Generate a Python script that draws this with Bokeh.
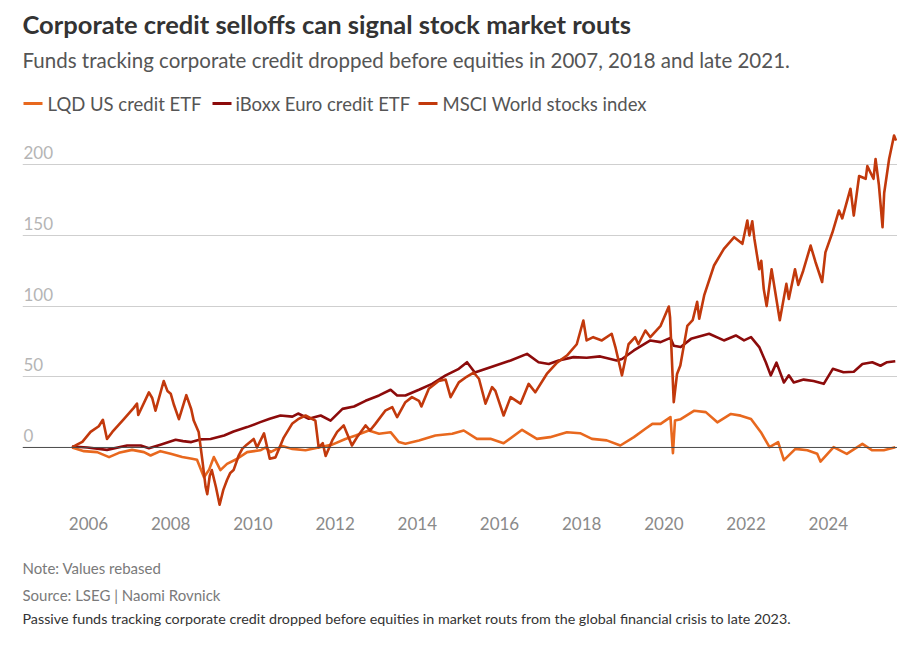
from bokeh.plotting import figure
from bokeh.models import Range1d, FixedTicker, Span
from bokeh.layouts import column
from bokeh.core.properties import value
from bokeh.embed import file_html
from bokeh.resources import INLINE

# ---------------- data (decimal year, rebased value) ----------------
msci_year = [2005.60, 2005.72, 2005.85, 2006.05, 2006.25, 2006.35, 2006.45, 2006.58, 2006.86, 2007.10,
             2007.18, 2007.21, 2007.47, 2007.55, 2007.63, 2007.83, 2007.92, 2008.00, 2008.08, 2008.20,
             2008.38, 2008.50, 2008.56, 2008.68, 2008.77, 2008.85, 2008.89, 2008.95, 2009.00, 2009.10,
             2009.19, 2009.28, 2009.37, 2009.45, 2009.53, 2009.65, 2009.74, 2009.85, 2010.02, 2010.10,
             2010.27, 2010.41, 2010.55, 2010.75, 2010.96, 2011.10, 2011.28, 2011.52, 2011.60, 2011.70,
             2011.77, 2011.93, 2012.05, 2012.21, 2012.41, 2012.55, 2012.74, 2012.85, 2012.98, 2013.22,
             2013.39, 2013.51, 2013.71, 2013.87, 2014.04, 2014.10, 2014.28, 2014.52, 2014.69, 2014.81,
             2015.01, 2015.20, 2015.37, 2015.50, 2015.66, 2015.82, 2015.90, 2016.10, 2016.27, 2016.51,
             2016.71, 2016.87, 2017.15, 2017.40, 2017.64, 2017.88, 2018.04, 2018.12, 2018.28, 2018.49,
             2018.73, 2018.82, 2018.98, 2019.14, 2019.30, 2019.38, 2019.55, 2019.67, 2019.92, 2020.12,
             2020.15, 2020.24, 2020.32, 2020.40, 2020.57, 2020.70, 2020.81, 2020.86, 2020.98, 2021.22,
             2021.46, 2021.71, 2021.91, 2022.03, 2022.08, 2022.15, 2022.20, 2022.32, 2022.37, 2022.43,
             2022.50, 2022.62, 2022.82, 2022.98, 2023.04, 2023.19, 2023.27, 2023.39, 2023.57, 2023.69,
             2023.85, 2023.93, 2024.10, 2024.26, 2024.34, 2024.54, 2024.62, 2024.75, 2024.91, 2024.95,
             2025.10, 2025.15, 2025.23, 2025.32, 2025.36, 2025.48, 2025.60, 2025.65]
msci_val = [0, 2, 4, 11, 15, 19.6, 6, 11, 20, 28,
            31, 23, 39, 35, 26, 47, 40, 38, 30, 20,
            37, 27, 19, 11, -9, -28, -33, -20, -16, -28,
            -40.5, -30, -23, -18, -16, -6, -1, 2, 6, 0,
            10, -8, -7, 7, 17, 20, 22.6, 19, 0, 3,
            -6, 5, 11, 15.6, 1.4, 8, 15.6, 12, 16.7, 26,
            28.5, 21.4, 32, 35.6, 33, 29, 41.5, 47, 48, 35.6,
            46, 50, 53, 48.6, 31, 42.7, 40, 22.6, 35.6, 31,
            45, 39, 52, 60, 65, 73, 89.8, 75.7, 78, 75.7,
            80.4, 71, 51, 73, 78, 73, 82.7, 78, 86, 99.7,
            92, 32, 52, 58, 86, 90, 103, 91, 107.5, 128.7,
            140.5, 148.7, 144, 160.5, 150, 160, 148, 126, 132, 112,
            100, 126, 90, 115.7, 105, 126, 115, 125, 142.8, 131,
            117, 138, 152, 167.6, 162, 183, 164, 192, 190, 199,
            190, 204, 186, 155.8, 180, 204, 220.6, 217]

iboxx_year = [2005.60, 2005.97, 2006.45, 2006.94, 2007.27, 2007.47, 2007.75, 2008.12, 2008.30, 2008.50,
              2008.72, 2008.97, 2009.30, 2009.53, 2009.86, 2010.18, 2010.41, 2010.67, 2010.96, 2011.10,
              2011.36, 2011.65, 2011.89, 2012.18, 2012.46, 2012.74, 2013.07, 2013.35, 2013.51, 2013.71,
              2014.04, 2014.36, 2014.69, 2015.01, 2015.21, 2015.40, 2015.78, 2016.27, 2016.67, 2016.95,
              2017.20, 2017.44, 2017.80, 2018.12, 2018.45, 2018.85, 2018.98, 2019.27, 2019.67, 2019.92,
              2020.16, 2020.24, 2020.41, 2020.66, 2021.10, 2021.46, 2021.75, 2021.95, 2022.12, 2022.32,
              2022.48, 2022.60, 2022.74, 2022.92, 2023.04, 2023.16, 2023.40, 2023.64, 2023.89, 2024.11,
              2024.37, 2024.62, 2024.83, 2025.07, 2025.27, 2025.43, 2025.63]
iboxx_val = [0.7, 0, -1.7, 1.4, 1.4, -0.5, 2, 5.4, 4.5, 3.8,
             5.7, 6, 8.5, 11.3, 14.4, 17.9, 20.3, 22.6, 21.8, 24,
             20.3, 22.6, 19, 27.3, 29, 33, 36.8, 40.8, 36.8, 36.8,
             40.8, 45, 51, 55.6, 60.3, 53, 56.8, 61.5, 66.2, 60.3,
             59, 61.5, 63.9, 63.5, 64.4, 61.5, 62.6, 68.6, 75.7, 74.5,
             77.5, 72, 71, 76.8, 80.4, 75.7, 79.2, 75.7, 78, 71,
             60.3, 51, 60, 46, 51, 46, 48, 47, 45, 55.6,
             53.2, 53.6, 59, 60.3, 57.8, 60.3, 61]

lqd_year = [2005.60, 2005.89, 2006.21, 2006.50, 2006.74, 2007.06, 2007.35, 2007.51, 2007.75, 2008.00,
            2008.28, 2008.52, 2008.64, 2008.81, 2008.93, 2009.05, 2009.21, 2009.37, 2009.62, 2009.86,
            2010.18, 2010.31, 2010.43, 2010.71, 2010.96, 2011.28, 2011.60, 2011.93, 2012.25, 2012.50,
            2012.82, 2013.07, 2013.35, 2013.55, 2013.71, 2014.04, 2014.44, 2014.85, 2015.13, 2015.45,
            2015.78, 2016.10, 2016.55, 2016.91, 2017.23, 2017.64, 2017.96, 2018.25, 2018.61, 2018.94,
            2019.27, 2019.55, 2019.72, 2019.92, 2020.16, 2020.22, 2020.27, 2020.41, 2020.74, 2021.02,
            2021.30, 2021.63, 2021.87, 2022.12, 2022.36, 2022.57, 2022.78, 2022.92, 2023.20, 2023.49,
            2023.73, 2023.81, 2024.13, 2024.45, 2024.83, 2025.07, 2025.35, 2025.63]
lqd_val = [0, -2.6, -3.3, -6.8, -3.8, -1.7, -3.3, -5.7, -2.6, -4.5,
           -6.8, -8, -8.7, -21, -16, -6.8, -16, -11.6, -8, -3.3,
           -2, 0, -3.3, 1, -1, -2, 0, 2, 6, 8.5,
           12, 9.7, 10.8, 3.8, 2.6, 5, 8.5, 9.7, 12, 6.1,
           6.1, 3, 12.5, 6.1, 7.3, 10.8, 10.1, 6.1, 5, 1.4,
           7.3, 13.2, 16.7, 16.7, 21.5, -4, 19, 20, 26, 25,
           17.8, 23.7, 22.5, 20.2, 10.8, 0.2, 3.8, -9, -1, -2,
           -4.5, -10, 0.2, -4.5, 2.6, -2, -2, 0.2]

series_names = ["LQD US credit ETF", "iBoxx Euro credit ETF", "MSCI World stocks index"]
series_colors = ["#e8681e", "#8c0b0b", "#c2390c"]

year_ticks = [2006, 2008, 2010, 2012, 2014, 2016, 2018, 2020, 2022, 2024]
grid_ticks = [50, 100, 150, 200]
y_label_vals = [0, 50, 100, 150, 200]

title_text = "Corporate credit selloffs can signal stock market routs"
subtitle_text = "Funds tracking corporate credit dropped before equities in 2007, 2018 and late 2021."
note_text = "Note: Values rebased"
source_text = "Source: LSEG | Naomi Rovnick"
caption_text = "Passive funds tracking corporate credit dropped before equities in market routs from the global financial crisis to late 2023."

FONT = "Lato"
W = 897
LB = 22          # left border shared by all three panels
FW = W - LB      # frame width


def text_panel(height):
    fig = figure(width=W, height=height, output_backend="svg", toolbar_location=None,
                 x_range=Range1d(0, FW), y_range=Range1d(height, 0),
                 x_axis_location=None, y_axis_location=None,
                 min_border_left=LB, min_border_right=0, min_border_top=0, min_border_bottom=0)
    fig.outline_line_color = None
    fig.grid.visible = False
    return fig


# ---------------- header ----------------
HH = 125
h = text_panel(HH)
h.text(x=[0], y=[23.5], text=[title_text], text_font=value(FONT), text_font_style="bold",
       text_font_size="25.5px", text_color="#333333", text_baseline="middle")
h.text(x=[0], y=[59.5], text=[subtitle_text], text_font=value(FONT),
       text_font_size="20.5px", text_color="#555555", text_baseline="middle")
leg_sw_x0 = [1, 190, 396]
leg_sw_len = 19
leg_tx_x = [25, 213, 420]
h.segment(x0=leg_sw_x0, y0=[103] * 3, x1=[x + leg_sw_len for x in leg_sw_x0], y1=[103] * 3,
          line_color=series_colors, line_width=3)
h.text(x=leg_tx_x, y=[103.5] * 3, text=series_names, text_font=value(FONT),
       text_font_size="18.5px", text_color="#555555", text_baseline="middle")

# ---------------- main chart ----------------
MH = 412
x_left, x_right = 2004.394, 2025.684
p = figure(width=W, height=MH, output_backend="svg", toolbar_location=None,
           x_range=Range1d(x_left, x_right), y_range=Range1d(-46.7, 227.7),
           min_border_left=LB, min_border_right=0, min_border_top=0, min_border_bottom=24)
p.outline_line_color = None
p.xgrid.visible = False
p.yaxis.visible = False
p.ygrid.ticker = FixedTicker(ticks=grid_ticks)
p.ygrid.grid_line_color = "#cfcfcf"
p.ygrid.grid_line_width = 1
p.xaxis.ticker = FixedTicker(ticks=year_ticks)
p.xaxis.major_label_overrides = {t: str(t) for t in year_ticks}
p.xaxis.axis_line_color = None
p.xaxis.major_tick_line_color = None
p.xaxis.minor_tick_line_color = None
p.xaxis.major_label_standoff = -3
p.xaxis.major_label_text_font = FONT
p.xaxis.major_label_text_font_size = "17px"
p.xaxis.major_label_text_color = "#8a8a8a"

p.add_layout(Span(location=0, dimension="width", line_color="#4a4a4a", line_width=1))

p.text(x=[x_left] * len(y_label_vals), y=y_label_vals, text=[str(v) for v in y_label_vals],
       text_font=value(FONT), text_font_size="17px", text_color="#b5b5b5",
       text_baseline="middle", x_offset=1, y_offset=-12)

for xs, ys, c in [(lqd_year, lqd_val, series_colors[0]),
                  (iboxx_year, iboxx_val, series_colors[1]),
                  (msci_year, msci_val, series_colors[2])]:
    p.line(xs, ys, line_color=c, line_width=2.6, line_join="round")

# ---------------- footer ----------------
FH = 102
f = text_panel(FH)
f.text(x=[0, 0], y=[30, 57], text=[note_text, source_text], text_font=value(FONT),
       text_font_size="15px", text_color="#7a7a7a", text_baseline="middle")
f.text(x=[0], y=[81], text=[caption_text], text_font=value(FONT),
       text_font_size="14.3px", text_color="#333333", text_baseline="middle")

layout = column(h, p, f, spacing=0)
open("out.html", "w").write(file_html(layout, INLINE))
